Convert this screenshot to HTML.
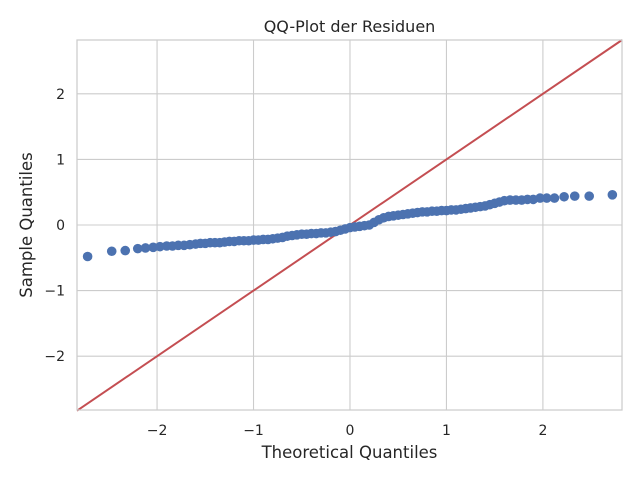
<!DOCTYPE html>
<html><head><meta charset="utf-8"><style>
body{margin:0;background:#fff;}
svg{display:block;font-family:"DejaVu Sans","Liberation Sans",sans-serif;}
</style></head><body>
<svg id="chart" width="640" height="480">
<rect x="0" y="0" width="640" height="480" fill="#fff"/>
<g id="grid"></g>
<g id="line"></g>
<g id="points"></g>
<rect x="77" y="40" width="545" height="370" fill="none" stroke="#cccccc" stroke-width="1.25"/>
<g id="ticks"></g>
<text x="349.5" y="32" text-anchor="middle" font-size="16" fill="#262626">QQ-Plot der Residuen</text>
<text x="349.5" y="458" text-anchor="middle" font-size="16.5" fill="#262626">Theoretical Quantiles</text>
<text x="32" y="225" text-anchor="middle" font-size="16.5" fill="#262626" transform="rotate(-90 32 225)">Sample Quantiles</text>
</svg>
<script>
const xTicks=[-2,-1,0,1,2];
const yTicks=[-2,-1,0,1,2];
const theoretical=[-2.72,-2.47,-2.33,-2.2,-2.12,-2.04,-1.97,-1.9,-1.84,-1.78,-1.72,-1.66,-1.6,-1.55,-1.5,-1.45,-1.4,-1.35,-1.3,-1.25,-1.2,-1.15,-1.1,-1.05,-1.0,-0.95,-0.9,-0.85,-0.8,-0.75,-0.7,-0.65,-0.6,-0.55,-0.5,-0.45,-0.4,-0.35,-0.3,-0.25,-0.2,-0.15,-0.1,-0.05,0.0,0.05,0.1,0.15,0.2,0.25,0.3,0.35,0.4,0.45,0.5,0.55,0.6,0.65,0.7,0.75,0.8,0.85,0.9,0.95,1.0,1.05,1.1,1.15,1.2,1.25,1.3,1.35,1.4,1.45,1.5,1.55,1.6,1.66,1.72,1.78,1.84,1.9,1.97,2.04,2.12,2.22,2.33,2.48,2.72];
const sample=[-0.48,-0.40,-0.39,-0.36,-0.35,-0.34,-0.33,-0.32,-0.32,-0.31,-0.31,-0.30,-0.29,-0.28,-0.28,-0.27,-0.27,-0.27,-0.26,-0.25,-0.25,-0.24,-0.24,-0.24,-0.23,-0.23,-0.22,-0.22,-0.21,-0.20,-0.19,-0.17,-0.16,-0.15,-0.14,-0.14,-0.13,-0.13,-0.12,-0.12,-0.11,-0.10,-0.08,-0.06,-0.04,-0.03,-0.02,-0.01,0.0,0.04,0.08,0.11,0.13,0.14,0.15,0.16,0.17,0.18,0.19,0.20,0.20,0.21,0.21,0.22,0.22,0.23,0.23,0.24,0.25,0.26,0.27,0.28,0.29,0.31,0.33,0.35,0.37,0.38,0.38,0.38,0.39,0.39,0.41,0.41,0.41,0.43,0.44,0.44,0.46];
const X0=77,X1=622,Y0=40,Y1=410,xMin=-2.83,xMax=2.82,yMin=-2.82,yMax=2.82;
const sx=v=>X0+(v-xMin)/(xMax-xMin)*(X1-X0);
const sy=v=>Y1-(v-yMin)/(yMax-yMin)*(Y1-Y0);
const NS="http://www.w3.org/2000/svg";
function mk(t,a,p){const e=document.createElementNS(NS,t);for(const k in a)e.setAttribute(k,a[k]);p.appendChild(e);return e;}
const grid=document.getElementById('grid'),ticks=document.getElementById('ticks');
xTicks.forEach(v=>{
 const l=mk('line',{x1:sx(v),x2:sx(v),y1:Y0,y2:Y1,stroke:'#cccccc','stroke-width':1.1},grid);
 
 
 const t=mk('text',{x:sx(v),y:Y1+25,'text-anchor':'middle','font-size':14,fill:'#262626'},ticks);
 t.textContent=(v<0?'\u2212':'')+Math.abs(v);
 
 
});
yTicks.forEach(v=>{
 const l=mk('line',{x1:X0,x2:X1,y1:sy(v),y2:sy(v),stroke:'#cccccc','stroke-width':1.1},grid);
 
 
 const t=mk('text',{x:X0-12,y:sy(v)+5,'text-anchor':'end','font-size':14,fill:'#262626'},ticks);
 t.textContent=(v<0?'\u2212':'')+Math.abs(v);
 
 
});
const ln=mk('line',{x1:sx(-2.83),y1:sy(-2.83),x2:sx(2.82),y2:sy(2.82),stroke:'#c44e52','stroke-width':2},document.getElementById('line'));


const pts=document.getElementById('points');
theoretical.forEach((x,i)=>{
 const c=mk('circle',{cx:sx(x),cy:sy(sample[i]),r:4.8,fill:'#4c72b0'},pts);
 
 
});
</script>
</body></html>
